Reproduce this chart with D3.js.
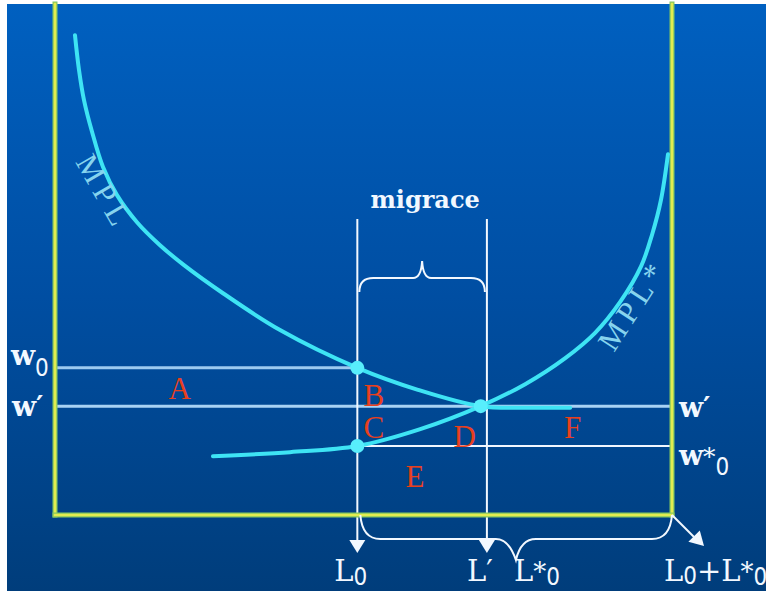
<!DOCTYPE html>
<html>
<head>
<meta charset="utf-8">
<script src="https://cdn.jsdelivr.net/npm/d3@7"></script>
<style>
  body { margin: 0; background: #fff; }
  svg { display: block; }
</style>
</head>
<body>
<div id="chart"></div>
<script>
// curves (labour share 0..100, wage 0..100)
const mplPoints = [[3.24, 93.9], [3.89, 87.1], [4.70, 81.2], [6.0, 75.0], [7.78, 68.1], [10.05, 62.6],
    [13.29, 57.3], [17.02, 52.8], [20.91, 48.9], [27.23, 43.4], [36.47, 36.2], [49, 28.8],
    [58.83, 24.5], [69, 21.3], [77, 21.0], [83.5, 21.0]];
const mplStarPoints = [[25.6, 11.5], [38.1, 12.3], [49, 13.5], [59.2, 16.8], [69, 21.3], [76.2, 25.6],
    [82.7, 30.7], [87.5, 35.6], [91.6, 41.7], [95.0, 48.7], [96.8, 55.0], [98.2, 61.6], [99.35, 70.6]];

// wage levels and labour marks
const wageNames = ["w0", "wPrime", "wStar0"];
const wageValues = [28.8, 21.3, 13.5];
const labourNames = ["L0", "LPrime", "total"];
const labourValues = [49, 70, 100];

// equilibrium dots
const dotPoints = [[49, 28.8], [49, 13.5], [69, 21.3]];

// area letters
const areaLetters = ["A", "B", "C", "D", "E", "F"];
const letterPoints = [[18.4, 22.7], [50.0, 21.3], [50.0, 15.1], [64.6, 13.3], [56.8, 5.5], [82.5, 15.1]];

function migrationChart() {
    const W = 766, H = 591;
    const wage = {}; wageNames.forEach((n, i) => wage[n] = wageValues[i]);
    const lab = {}; labourNames.forEach((n, i) => lab[n] = labourValues[i]);

    const svg = d3.select("#chart")
        .append("svg")
        .attr("width", W)
        .attr("height", H);

    // background
    const defs = svg.append("defs");
    const grad = defs.append("linearGradient")
        .attr("id", "bg").attr("x1", 0).attr("y1", 0).attr("x2", 0).attr("y2", 1);
    grad.append("stop").attr("offset", "0%").attr("stop-color", "#0060c0");
    grad.append("stop").attr("offset", "50%").attr("stop-color", "#004ea2");
    grad.append("stop").attr("offset", "100%").attr("stop-color", "#003d7b");
    svg.append("rect").attr("width", W).attr("height", H).attr("fill", "#fff");
    svg.append("rect").attr("x", 7).attr("y", 4).attr("width", W - 7).attr("height", H - 4).attr("fill", "url(#bg)");

    // scales
    const x = d3.scaleLinear().domain([0, 100]).range([55, 672]);
    const y = d3.scaleLinear().domain([0, 100]).range([515, 4]);

    // wage lines
    svg.append("line")
        .attr("x1", x(0)).attr("x2", x(lab.L0))
        .attr("y1", y(wage.w0)).attr("y2", y(wage.w0))
        .attr("stroke", "#9ccaf0").attr("stroke-width", 3);
    svg.append("line")
        .attr("x1", x(0)).attr("x2", x(100))
        .attr("y1", y(wage.wPrime)).attr("y2", y(wage.wPrime))
        .attr("stroke", "#a8d2f4").attr("stroke-width", 3);
    svg.append("line")
        .attr("x1", x(lab.L0)).attr("x2", x(100))
        .attr("y1", y(wage.wStar0)).attr("y2", y(wage.wStar0))
        .attr("stroke", "#f0f6ff").attr("stroke-width", 2);

    // vertical marks with arrows
    const white = "#f2f8ff";
    [lab.L0, lab.LPrime].forEach(v => {
        const px = x(v);
        svg.append("line")
            .attr("x1", px).attr("x2", px)
            .attr("y1", 219).attr("y2", 541)
            .attr("stroke", white).attr("stroke-width", 2);
        svg.append("path")
            .attr("d", `M${px - 8},540 L${px + 8},540 L${px},553 Z`)
            .attr("fill", white);
    });

    // axes (yellow frame)
    const frame = svg.append("g");
    [[x(0), 4, x(0), y(0)], [x(100), 4, x(100), y(0)], [x(0), y(0), x(100), y(0)]].forEach(s => {
        frame.append("line")
            .attr("x1", s[0]).attr("y1", s[1]).attr("x2", s[2]).attr("y2", s[3])
            .attr("stroke", "#86c860").attr("stroke-width", 5).attr("stroke-linecap", "square");
        frame.append("line")
            .attr("x1", s[0]).attr("y1", s[1]).attr("x2", s[2]).attr("y2", s[3])
            .attr("stroke", "#e2ec50").attr("stroke-width", 2.5).attr("stroke-linecap", "square");
    });

    // top brace (migrace)
    const xl = x(lab.L0) + 2, xr = x(lab.LPrime) - 2, xm = (xl + xr) / 2;
    const yb = 292, yh = 278, yt = 261;
    svg.append("path")
        .attr("d", `M${xl},${yb} Q${xl},${yh} ${xl + 14},${yh} L${xm - 9},${yh} Q${xm - 1},${yh} ${xm},${yt}` +
            ` Q${xm + 1},${yh} ${xm + 9},${yh} L${xr - 14},${yh} Q${xr},${yh} ${xr},${yb}`)
        .attr("fill", "none").attr("stroke", white).attr("stroke-width", 2);

    // bottom brace (L*0)
    const bl = x(lab.L0) + 3, br = x(lab.total), by = y(0), bh = 539;
    const bm = x(lab.LPrime) + 29;
    svg.append("path")
        .attr("d", `M${bl},${by} Q${bl + 2},${bh} ${bl + 20},${bh} L${bm - 20},${bh} Q${bm - 7},${bh} ${bm},560` +
            ` Q${bm + 5},${bh} ${bm + 20},${bh} L${br - 20},${bh} Q${br - 2},${bh} ${br},${by}`)
        .attr("fill", "none").attr("stroke", white).attr("stroke-width", 2);

    // diagonal arrow
    const ax = x(lab.total), ay = y(0);
    svg.append("line")
        .attr("x1", ax).attr("y1", ay).attr("x2", ax + 22).attr("y2", ay + 22)
        .attr("stroke", white).attr("stroke-width", 2);
    const tip = [ax + 32, ay + 31];
    svg.append("path")
        .attr("d", `M${tip[0]},${tip[1]} L${tip[0] - 15.6},${tip[1] - 4.2} L${tip[0] - 4.2},${tip[1] - 15.6} Z`)
        .attr("fill", white);

    // curves
    const line = d3.line()
        .x(d => x(d[0])).y(d => y(d[1]))
        .curve(d3.curveCatmullRom.alpha(0.5));
    [mplPoints, mplStarPoints].forEach(pts => {
        svg.append("path")
            .attr("d", line(pts))
            .attr("fill", "none")
            .attr("stroke", "#3ee4f4")
            .attr("stroke-width", 4)
            .attr("stroke-linecap", "round");
    });

    // dots
    svg.append("g")
        .selectAll("circle")
        .data(dotPoints)
        .join("circle")
        .attr("cx", d => x(d[0])).attr("cy", d => y(d[1]))
        .attr("r", 7)
        .attr("fill", "#58eefc");

    // curve labels
    svg.append("text")
        .attr("transform", "translate(75,162) rotate(60)")
        .attr("textLength", 76)
        .attr("lengthAdjust", "spacing")
        .style("font-family", "'Liberation Serif', serif")
        .style("font-size", "31px")
        .style("fill", "#86d4ee")
        .text("MPL");
    svg.append("text")
        .attr("transform", "translate(614,353) rotate(-57)")
        .attr("textLength", 96)
        .attr("lengthAdjust", "spacing")
        .style("font-family", "'Liberation Serif', serif")
        .style("font-size", "31px")
        .style("fill", "#86d4ee")
        .text("MPL*");

    // area letters
    svg.append("g")
        .selectAll("text")
        .data(areaLetters)
        .join("text")
        .attr("x", (d, i) => x(letterPoints[i][0]))
        .attr("y", (d, i) => y(letterPoints[i][1]))
        .style("font-family", "'Liberation Serif', serif")
        .style("font-size", "31px")
        .style("fill", "#e8401e")
        .text(d => d);

    // migrace
    svg.append("text")
        .attr("x", xm + 3).attr("y", 208)
        .attr("text-anchor", "middle")
        .style("font-family", "'DejaVu Serif', serif")
        .style("font-weight", "bold")
        .style("font-size", "24px")
        .style("fill", white)
        .text("migrace");

    // composed labels: [text, kind, dy]
    const mainFont = "'DejaVu Serif', serif";
    const subFont = "'Liberation Sans Narrow', 'DejaVu Sans Condensed', 'Liberation Sans', sans-serif";
    function label(px, py, parts, size, bold) {
        const t = svg.append("text")
            .attr("x", px).attr("y", py)
            .style("fill", white);
        parts.forEach(p => {
            const s = t.append("tspan").text(p[0]).attr("dy", p[2] || 0);
            if (p[1] === "sub") {
                s.style("font-family", subFont).style("font-size", "24px");
            } else if (p[1] === "star") {
                s.style("font-family", mainFont).style("font-size", (size - 3) + "px");
            } else {
                s.style("font-family", mainFont).style("font-size", size + "px")
                    .style("font-weight", bold ? "bold" : "normal");
            }
        });
    }

    label(11, y(wage.w0) - 3, [["w", "main"], ["0", "sub", 11]], 28, true);
    label(12, y(wage.wPrime) + 10, [["w", "main"], ["′", "main"]], 28, true);
    label(679, y(wage.wPrime) + 11, [["w", "main"], ["′", "main"]], 28, true);
    label(679, y(wage.wStar0) + 19, [["w", "main"], ["*", "star"], ["0", "sub", 10]], 28, true);

    label(x(lab.L0) - 23, 581, [["L", "main"], ["0", "sub", 4]], 29, false);
    label(x(lab.LPrime) - 20, 581, [["L", "main"], ["′", "main"]], 29, false);
    label(514, 581, [["L", "main"], ["*", "star"], ["0", "sub", 4]], 29, false);
    label(664, 581, [["L", "main"], ["0", "sub", 3], ["+", "main", -3], ["L", "main"], ["*", "star"], ["0", "sub", 4]], 29, false);
}

migrationChart();
</script>
</body>
</html>
